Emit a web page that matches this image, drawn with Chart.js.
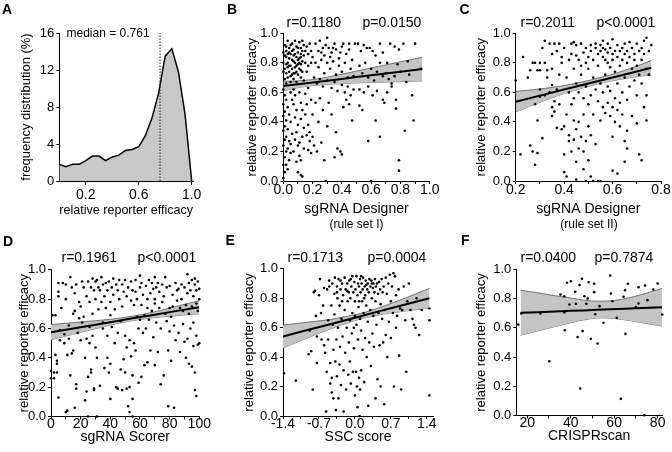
<!DOCTYPE html>
<html>
<head>
<meta charset="utf-8">
<script src="https://cdn.jsdelivr.net/npm/chart.js@4.4.0/dist/chart.umd.min.js"></script>
<style>
body { margin: 0; background: #fff; width: 672px; height: 452px; position: relative; overflow: hidden; }
canvas { position: absolute; }
</style>
</head>
<body>
<canvas id="cA"></canvas>
<canvas id="cB"></canvas>
<canvas id="cC"></canvas>
<canvas id="cD"></canvas>
<canvas id="cE"></canvas>
<canvas id="cF"></canvas>
<script>
// ---- panel A: frequency distribution
var histX = [0, 0.05, 0.1, 0.15, 0.2, 0.25, 0.3, 0.35, 0.4, 0.45, 0.5, 0.55, 0.6, 0.65, 0.7, 0.75, 0.8, 0.85, 0.9, 0.95, 1.0];
var histPct = [1.8, 1.55, 1.8, 1.8, 2.2, 2.7, 2.7, 2.2, 2.6, 2.8, 3.3, 3.4, 3.7, 4.9, 6.8, 9.5, 13.5, 14.3, 11.8, 7.2, 0];
var medianValue = 0.761;
var aXTicks = [0.2, 0.6, 1.0];
var aXLabels = ["0.2", "0.6", "1.0"];
var aYTicks = [0, 4, 8, 12, 16];
var aYLabels = ["0", "4", "8", "12", "16"];

// shared y ticks for the scatter panels
var effTicks = [0, 0.2, 0.4, 0.6, 0.8, 1.0];
var effLabels = ["0.0", "0.2", "0.4", "0.6", "0.8", "1.0"];

// ---- panel B: sgRNA Designer (rule set I)
var bPoints = [
[0.01,0.92],[0.02,0.88],[0.03,0.95],[0.04,0.9],[0.05,0.86],[0.06,0.93],[0.07,0.89],[0.08,0.95],[0.09,0.91],[0.1,0.87],[0.11,0.94],[0.12,0.9],[0.13,0.95],[0.14,0.92],
[0.02,0.84],[0.03,0.8],[0.04,0.83],[0.05,0.78],[0.06,0.82],[0.07,0.85],[0.08,0.8],[0.09,0.84],[0.1,0.79],[0.11,0.83],[0.12,0.86],[0.13,0.81],[0.14,0.85],[0.15,0.88],
[0.01,0.76],[0.02,0.73],[0.03,0.77],[0.04,0.74],[0.05,0.71],[0.06,0.76],[0.07,0.73],[0.08,0.77],[0.09,0.74],[0.1,0.72],[0.11,0.76],[0.12,0.79],[0.13,0.74],[0.15,0.8],
[0.16,0.91],[0.17,0.86],[0.18,0.93],[0.19,0.88],[0.2,0.84],[0.17,0.78],[0.19,0.8],[0.16,0.74],[0.01,0.69],[0.02,0.66],[0.03,0.7],[0.05,0.67],[0.07,0.69],[0.09,0.67],
[0.12,0.7],[0.14,0.68],[0.01,0.85],[0.02,0.91],[0.04,0.87],[0.06,0.88],[0.08,0.86],[0.1,0.9],[0.12,0.84],[0.03,0.86],[0.05,0.92],[0.07,0.81],[0.09,0.78],[0.11,0.8],
[0.13,0.88],[0.0,0.8],[0.0,0.74],[0.0,0.87],[0.02,0.79],[0.04,0.78],[0.06,0.72],[0.08,0.73],[0.1,0.82],[0.12,0.75],
[0.0,0.62],[0.01,0.58],[0.0,0.52],[0.02,0.55],[0.01,0.47],[0.0,0.44],[0.02,0.41],[0.01,0.37],[0.0,0.34],[0.02,0.3],[0.01,0.28],[0.0,0.24],[0.02,0.2],[0.01,0.16],
[0.0,0.11],[0.02,0.11],[0.01,0.06],[0.0,0.02],[0.03,0.5],[0.04,0.45],[0.03,0.35],[0.04,0.27],[0.03,0.22],[0.05,0.19],[0.04,0.14],[0.03,0.08],[0.05,0.6],[0.06,0.55],
[0.05,0.4],[0.06,0.32],[0.05,0.25],
[0.07,0.62],[0.08,0.58],[0.07,0.52],[0.09,0.48],[0.08,0.43],[0.1,0.38],[0.09,0.33],[0.08,0.28],[0.1,0.24],[0.07,0.2],[0.11,0.17],[0.09,0.13],[0.1,0.06],[0.12,0.04],
[0.13,0.03],[0.11,0.6],[0.12,0.53],[0.13,0.48],[0.12,0.42],[0.14,0.36],[0.13,0.3],[0.11,0.26],[0.14,0.22],[0.12,0.14],[0.15,0.59],[0.16,0.52],[0.15,0.45],[0.17,0.38],
[0.16,0.31],[0.18,0.27],[0.17,0.21],[0.19,0.19],[0.18,0.33],[0.2,0.3],[0.2,0.45],[0.19,0.55],[0.17,0.63],
[0.22,0.93],[0.24,0.88],[0.25,0.95],[0.27,0.9],[0.28,0.85],[0.3,0.97],[0.31,0.9],[0.33,0.87],[0.35,0.93],[0.36,0.89],[0.38,0.83],[0.4,0.91],[0.41,0.93],[0.43,0.86],
[0.45,0.89],[0.47,0.82],[0.49,0.93],[0.22,0.8],[0.24,0.77],[0.26,0.82],[0.28,0.73],[0.3,0.8],[0.32,0.76],[0.34,0.81],[0.36,0.72],[0.38,0.78],[0.4,0.74],[0.42,0.8],
[0.44,0.7],[0.46,0.76],[0.48,0.71],[0.21,0.7],[0.23,0.66],[0.25,0.69],[0.27,0.64],[0.3,0.68],[0.33,0.63],[0.35,0.67],[0.37,0.61],[0.4,0.65],[0.42,0.6],[0.44,0.64],
[0.46,0.58],[0.48,0.62],[0.26,0.87],[0.32,0.84],[0.39,0.87],[0.29,0.92],[0.34,0.9],[0.45,0.93],
[0.22,0.53],[0.25,0.56],[0.27,0.48],[0.24,0.4],[0.26,0.26],[0.28,0.14],[0.3,0.37],[0.31,0.53],[0.33,0.45],[0.36,0.33],[0.37,0.22],[0.35,0.16],[0.39,0.2],[0.4,0.18],
[0.41,0.5],[0.43,0.55],[0.45,0.52],[0.47,0.41],[0.23,0.2],[0.29,0.0],[0.21,0.24],
[0.51,0.93],[0.53,0.88],[0.55,0.92],[0.57,0.9],[0.59,0.9],[0.61,0.88],[0.63,0.85],[0.66,0.93],[0.68,0.87],[0.71,0.8],[0.73,0.93],[0.76,0.91],[0.79,0.89],[0.82,0.93],
[0.85,0.81],[0.9,0.93],[0.94,0.76],[0.52,0.78],[0.54,0.73],[0.56,0.8],[0.58,0.7],[0.6,0.76],[0.62,0.68],[0.64,0.74],[0.66,0.8],[0.68,0.71],[0.7,0.73],[0.72,0.69],
[0.74,0.66],[0.76,0.71],[0.78,0.79],[0.8,0.74],[0.84,0.67],[0.86,0.72],[0.52,0.62],[0.55,0.6],[0.58,0.64],[0.61,0.58],[0.64,0.61],[0.68,0.55],[0.71,0.6],[0.74,0.64],
[0.77,0.55],[0.54,0.48],[0.52,0.51],[0.58,0.27],[0.63,0.41],[0.66,0.3],[0.77,0.49],[0.79,0.14],[0.79,0.07],[0.83,0.34],[0.89,0.41],[0.88,0.58],[0.69,0.53],[0.6,0.0]
];
var bFitX = [0, 0.1, 0.2, 0.3, 0.4, 0.5, 0.6, 0.7, 0.8, 0.95];
var bFitY = [0.643, 0.655, 0.667, 0.679, 0.691, 0.704, 0.716, 0.728, 0.740, 0.758];
var bUpper = [0.675, 0.678, 0.687, 0.703, 0.723, 0.744, 0.765, 0.786, 0.807, 0.838];
var bLower = [0.611, 0.632, 0.647, 0.655, 0.659, 0.664, 0.667, 0.670, 0.673, 0.678];
var bXTicks = [0, 0.1, 0.2, 0.3, 0.4, 0.5, 0.6, 0.7, 0.8, 0.9, 1.0];
var bXLabels = ["0.0", "", "0.2", "", "0.4", "", "0.6", "", "0.8", "", "1.0"];

// ---- panel C: sgRNA Designer (rule set II)
var cPoints = [
[0.2,0.68],[0.22,0.18],[0.23,0.84],[0.25,0.7],[0.26,0.24],[0.27,0.8],[0.27,0.2],[0.28,0.11],[0.28,0.8],[0.28,0.52],[0.29,0.41],[0.29,0.75],[0.3,0.8],[0.3,0.75],
[0.3,0.62],[0.31,0.29],[0.31,0.9],[0.32,0.95],[0.32,0.8],[0.33,0.7],[0.33,0.75],[0.34,0.93],[0.34,0.6],[0.35,0.86],[0.35,0.76],[0.35,0.65],[0.35,0.5],[0.35,0.44],
[0.3,0.57],[0.29,0.19],[0.32,0.58],[0.26,0.75],
[0.36,0.93],[0.36,0.54],[0.36,0.47],[0.37,0.88],[0.37,0.62],[0.37,0.36],[0.38,0.52],[0.38,0.72],[0.38,0.93],[0.39,0.35],[0.39,0.8],[0.39,0.84],[0.4,0.06],[0.4,0.18],
[0.4,0.37],[0.4,0.9],[0.41,0.7],[0.41,0.03],[0.41,0.45],[0.42,0.27],[0.42,0.31],[0.42,0.82],[0.42,0.6],[0.43,0.93],[0.43,0.2],[0.43,0.86],[0.43,0.52],[0.44,0.41],
[0.44,0.28],[0.44,0.94],[0.44,0.76],[0.45,0.01],[0.45,0.85],[0.45,0.66],[0.45,0.35],[0.45,0.13],[0.45,0.92],[0.44,0.56],
[0.46,0.22],[0.46,0.82],[0.46,0.6],[0.46,0.4],[0.47,0.93],[0.47,0.3],[0.47,0.72],[0.47,0.78],[0.48,0.2],[0.48,0.56],[0.48,0.87],[0.48,0.08],[0.48,0.45],[0.49,0.27],
[0.49,0.0],[0.49,0.64],[0.49,0.9],[0.49,0.8],[0.5,0.37],[0.5,0.52],[0.5,0.84],[0.5,0.76],[0.5,0.14],[0.51,0.92],[0.51,0.03],[0.51,0.88],[0.51,0.58],[0.51,0.31],
[0.52,0.7],[0.52,0.82],[0.52,0.45],[0.52,0.0],[0.53,0.9],[0.53,0.93],[0.53,0.62],[0.53,0.25],[0.54,0.86],[0.54,0.54],[0.54,0.0],[0.54,0.78],[0.55,0.92],[0.55,0.88],
[0.55,0.66],[0.55,0.41],[0.55,0.0],[0.56,0.95],[0.56,0.84],[0.56,0.6],[0.56,0.5],[0.56,0.9],
[0.57,0.89],[0.57,0.82],[0.57,0.72],[0.57,0.46],[0.58,0.93],[0.58,0.87],[0.58,0.8],[0.58,0.53],[0.58,0.64],[0.59,0.9],[0.59,0.77],[0.59,0.44],[0.59,0.61],[0.6,0.96],
[0.6,0.86],[0.6,0.82],[0.6,0.5],[0.6,0.07],[0.6,0.3],[0.61,0.88],[0.61,0.74],[0.61,0.56],[0.61,0.4],[0.62,0.92],[0.62,0.84],[0.62,0.66],[0.62,0.48],[0.62,0.05],
[0.63,0.88],[0.63,0.78],[0.63,0.53],[0.63,0.37],[0.64,0.9],[0.64,0.82],[0.64,0.6],[0.64,0.45],[0.65,0.93],[0.65,0.86],[0.65,0.7],[0.65,0.27],[0.65,0.13],[0.66,0.88],
[0.66,0.8],[0.66,0.34],[0.66,0.22],[0.66,0.55],
[0.67,0.94],[0.67,0.84],[0.67,0.64],[0.68,0.9],[0.68,0.76],[0.68,0.44],[0.69,0.86],[0.69,0.68],[0.69,0.82],[0.7,0.93],[0.7,0.78],[0.7,0.58],[0.7,0.39],[0.71,0.88],
[0.71,0.72],[0.71,0.18],[0.72,0.82],[0.72,0.66],[0.72,0.14],[0.73,0.95],[0.73,0.86],[0.73,0.5],[0.74,0.97],[0.74,0.76],[0.74,0.41],[0.75,0.88],[0.75,0.72],[0.76,0.92],
[0.74,0.58],[0.72,0.9]
];
var cFitX = [0.2, 0.3, 0.4, 0.5, 0.55, 0.6, 0.7, 0.76];
var cFitY = [0.537, 0.578, 0.619, 0.660, 0.681, 0.701, 0.742, 0.767];
var cUpper = [0.607, 0.623, 0.646, 0.680, 0.701, 0.723, 0.777, 0.817];
var cLower = [0.467, 0.533, 0.592, 0.640, 0.661, 0.679, 0.707, 0.717];
var cXTicks = [0.2, 0.3, 0.4, 0.5, 0.6, 0.7, 0.8];
var cXLabels = ["0.2", "", "0.4", "", "0.6", "", "0.8"];

// ---- panel D: sgRNA Scorer
var dPoints = [
[0,0.31],[0,0.26],[1,0.69],[2,0.26],[2,0.3],[3,0.69],[3,0.42],[4,0.38],[4,0.36],[4,0.3],[5,0.13],[5,0.82],[5,0.85],[5,0.91],[6,0.59],[6,0.52],[7,0.74],[8,0.91],
[9,0.56],[9,0.5],[10,0.9],[10,0.8],[10,0.03],[11,0.04],[11,0.42],[12,0.62],[12,0.53],
[13,0.95],[13,0.28],[14,0.88],[14,0.43],[15,0.45],[15,0.7],[16,0.72],[16,0.06],[16,0.84],[17,0.9],[17,0.22],[17,0.19],[18,0.57],[19,0.67],[19,0.78],[20,0.75],[20,0.52],
[21,0.92],[21,0.64],[22,0.88],[22,0.68],[23,0.4],[23,0.11],[24,0.53],[24,0.82],[24,0.17],[25,0.92],[25,0.27],[25,0.0],[26,0.5],
[26,0.61],[26,0.78],[27,0.32],[27,0.3],[27,0.88],[28,0.7],[28,0.94],[28,0.55],[29,0.19],[29,0.18],[29,0.86],[30,0.92],[30,0.47],[30,0.8],[31,0.0],[31,0.93],[31,0.4],
[32,0.88],[32,0.73],[33,0.86],[33,0.21],[34,0.95],[34,0.78],[35,0.9],[35,0.6],[35,0.64],[36,0.82],[36,0.33],[37,0.74],[37,0.91],[38,0.4],[38,0.55],[38,0.86],[39,0.3],
[39,0.92],[40,0.78],[40,0.36],[40,0.12],[40,0.69],
[41,0.88],[41,0.61],[42,0.94],[42,0.83],[43,0.5],[43,0.73],[44,0.9],[44,0.2],[45,0.19],[45,0.86],[45,0.57],[46,0.93],[46,0.8],[47,0.65],[47,0.32],[48,0.9],[48,0.18],
[48,0.75],[49,0.85],[49,0.39],[50,0.93],[50,0.55],[50,0.3],[51,0.19],[51,0.82],[51,0.47],[52,0.07],[52,0.88],[53,0.03],[53,0.52],[53,0.2],[54,0.92],[54,0.79],[54,0.41],
[55,0.12],[55,0.0],[55,0.86],[55,0.28],
[56,0.5],[56,0.76],[57,0.93],[57,0.85],[57,0.45],[58,0.8],[58,0.68],[59,0.6],[59,0.23],[60,0.96],[60,0.88],[60,0.66],[61,0.76],[61,0.91],[61,0.27],[62,0.57],[62,0.83],
[63,0.69],[63,0.35],[64,0.89],[64,0.6],[65,0.8],[65,0.74],[65,0.37],[66,0.93],[66,0.66],[67,0.84],[67,0.45],[68,0.91],[68,0.72],[69,0.54],[69,0.87],[70,0.95],[70,0.8],
[70,0.35],[70,0.77],
[71,0.88],[71,0.64],[72,0.91],[72,0.44],[73,0.74],[73,0.85],[74,0.6],[74,0.22],[75,0.9],[75,0.78],[76,0.82],[76,0.28],[77,0.95],[77,0.7],[78,0.88],[78,0.65],[79,0.45],
[79,0.07],[80,0.89],[80,0.74],[80,0.58],[81,0.68],[81,0.38],[82,0.83],[82,0.75],[83,0.06],[83,0.62],[84,0.91],[84,0.52],[85,0.86],[85,0.79],
[86,0.57],[86,0.87],[87,0.74],[87,0.44],[88,0.9],[88,0.8],[89,0.63],[89,0.72],[90,0.88],[90,0.51],[91,0.76],[91,0.4],[92,0.97],[92,0.84],[92,0.53],[93,0.91],[93,0.7],
[93,0.36],[94,0.86],[94,0.6],[95,0.93],[95,0.75],[95,0.34],[96,0.82],[96,0.64],[96,0.48],[97,0.9],[97,0.18],[97,0.3],[98,0.14],[98,0.77],[98,0.55],[99,0.92],[99,0.72],
[99,0.49],[100,0.87],[100,0.8],[100,0.5],[97,0.94],[98,0.86]
];
var dFitX = [0, 20, 40, 55, 70, 85, 100];
var dFitY = [0.575, 0.609, 0.643, 0.669, 0.694, 0.720, 0.745];
var dUpper = [0.627, 0.644, 0.663, 0.684, 0.714, 0.752, 0.790];
var dLower = [0.523, 0.574, 0.623, 0.654, 0.674, 0.688, 0.700];
var dXTicks = [0, 10, 20, 30, 40, 50, 60, 70, 80, 90, 100];
var dXLabels = ["0", "", "20", "", "40", "", "60", "", "80", "", "100"];

// ---- panel E: SSC score
var ePoints = [
[-1.38,0.29],[-1.15,0.24],[-0.9,0.42],[-0.88,0.58],[-0.85,0.44],[-0.82,0.18],[-0.8,0.84],[-0.78,0.85],[-0.76,0.68],[-0.74,0.54],[-0.74,0.36],[-0.7,0.82],[-0.68,0.93],
[-0.66,0.7],[-0.65,0.52],[-0.62,0.75],[-0.6,0.87],[-0.6,0.48],[-0.58,0.43],[-0.56,0.03],[-0.55,0.3],[-0.54,0.86],[-0.52,0.65],[-0.52,0.52],[-0.5,0.92],[-0.5,0.88],
[-0.48,0.22],[-0.48,0.36],[-0.46,0.75],[-0.45,0.16],[-0.45,0.26],[-0.44,0.9],[-0.43,0.62],[-0.42,0.45],[-0.42,0.12],
[-0.4,0.83],[-0.4,0.69],[-0.39,0.94],[-0.38,0.37],[-0.37,0.04],[-0.36,0.52],[-0.35,0.88],[-0.35,0.27],[-0.34,0.8],[-0.33,0.6],[-0.32,0.12],[-0.32,0.93],[-0.3,0.35],
[-0.3,0.75],[-0.29,0.47],[-0.28,0.86],[-0.27,0.21],[-0.26,0.66],[-0.25,0.9],[-0.24,0.54],[-0.23,0.82],[-0.22,0.03],[-0.22,0.31],[-0.2,0.94],[-0.2,0.72],[-0.19,0.43],
[-0.18,0.86],[-0.17,0.18],[-0.16,0.6],[-0.15,0.9],[-0.14,0.78],[-0.13,0.28],[-0.12,0.84],[-0.12,0.5],[-0.11,0.92],[-0.1,0.65],[-0.1,0.37],[-0.09,0.8],[-0.08,0.22],
[-0.07,0.88],[-0.06,0.56],[-0.05,0.95],[-0.05,0.7],[-0.04,0.3],[-0.03,0.84],[-0.02,0.6],[-0.02,0.46],[-0.01,0.91],[0.0,0.78],[0.0,0.14],[0.0,0.68],[-0.28,0.92],
[-0.15,0.85],[-0.35,0.84],[-0.25,0.78],[-0.08,0.93],
[0.01,0.86],[0.02,0.3],[0.03,0.95],[0.03,0.62],[0.04,0.2],[0.05,0.82],[0.05,0.06],[0.06,0.9],[0.06,0.52],[0.07,0.74],[0.08,0.88],[0.08,0.26],[0.09,0.0],[0.1,0.93],
[0.1,0.66],[0.1,0.18],[0.11,0.84],[0.12,0.58],[0.12,0.31],[0.13,0.9],[0.14,0.78],[0.15,0.45],[0.15,0.86],[0.16,0.94],[0.17,0.7],[0.18,0.23],[0.19,0.88],[0.2,0.82],
[0.2,0.53],[0.21,0.92],[0.22,0.75],[0.23,0.4],[0.24,0.86],[0.25,0.9],[0.25,0.64],[0.26,0.07],[0.27,0.84],[0.28,0.93],[0.28,0.5],[0.3,0.88],[0.3,0.72],[0.31,0.34],
[0.32,0.92],[0.33,0.8],[0.34,0.56],[0.35,0.87],[0.36,0.9],[0.36,0.68],[0.37,0.47],[0.38,0.84],[0.39,0.93],[0.4,0.78],[0.4,0.12],[0.22,0.89],[0.33,0.9],[0.12,0.95],
[0.18,0.8],[0.08,0.78],
[0.41,0.88],[0.42,0.62],[0.43,0.9],[0.44,0.25],[0.45,0.83],[0.46,0.7],[0.47,0.91],[0.48,0.48],[0.49,0.86],[0.5,0.76],[0.5,0.2],[0.52,0.93],[0.53,0.66],[0.54,0.84],
[0.55,0.5],[0.56,0.88],[0.57,0.08],[0.58,0.72],[0.6,0.94],[0.6,0.55],[0.62,0.83],[0.63,0.4],[0.65,0.9],[0.66,0.64],[0.68,0.96],[0.7,0.78],[0.7,0.53],[0.72,0.88],
[0.74,0.7],[0.75,0.97],[0.76,0.2],[0.78,0.95],[0.8,0.6],[0.8,0.82],[0.82,0.68],[0.85,0.86],[0.86,0.41],[0.88,0.73],[0.9,0.18],[0.92,0.72],[0.95,0.88],[0.98,0.65],
[1.0,0.3],[1.02,0.78],[1.05,0.9],[1.08,0.72],[1.12,0.66],[1.15,0.62],[1.18,0.6],[1.2,0.8],[1.25,0.55],[1.3,0.72],[1.45,0.73],[1.45,0.65],[1.45,0.14]
];
var eFitX = [-1.4, -1, -0.5, 0, 0.2, 0.5, 1.0, 1.45];
var eFitY = [0.540, 0.577, 0.622, 0.668, 0.686, 0.714, 0.759, 0.800];
var eUpper = [0.618, 0.634, 0.655, 0.688, 0.705, 0.739, 0.804, 0.867];
var eLower = [0.462, 0.520, 0.589, 0.648, 0.667, 0.689, 0.714, 0.733];
var eXTicks = [-1.4, -1.05, -0.7, -0.35, 0, 0.35, 0.7, 1.05, 1.4];
var eXLabels = ["-1.4", "", "-0.7", "", "0.0", "", "0.7", "", "1.4"];

// ---- panel F: CRISPRscan
var fPoints = [
[15.9,0.623],[17.3,0.699],[26.1,0.699],[30.2,0.372],[35.3,0.829],[37.1,0.817],[37.3,0.584],[37.1,0.708],[38.3,0.909],[40.1,0.92],[39.4,0.76],[42.1,0.847],
[42.4,0.765],[43.2,0.537],[44.1,0.893],[44.4,0.185],[45.2,0.936],[45.5,0.578],[46.3,0.817],[47.2,0.765],[47.8,0.801],[48.3,0.913],[49.3,0.525],[50.8,0.902],
[50.8,0.845],[51.3,0.694],[52.4,0.493],[53.3,0.749],[55.1,0.635],[58.2,0.959],[58.5,0.836],[59.2,0.783],[61.2,0.669],[63.1,0.114],[64.3,0.813],[65.0,0.858],
[65.2,0.559],[66.3,0.902],[70.0,0.742],[71.2,0.879],[71.2,0.767],[74.2,0.89],[73.9,0.002],[75.3,0.79],[78.0,0.863],[80.0,0.904],[82.1,0.692]
];
var fFitX = [17, 25, 33, 40, 46, 52, 58, 65, 73, 82];
var fFitY = [0.703, 0.708, 0.713, 0.717, 0.720, 0.724, 0.728, 0.732, 0.737, 0.742];
var fUpper = [0.858, 0.840, 0.820, 0.805, 0.790, 0.783, 0.785, 0.800, 0.830, 0.870];
var fLower = [0.550, 0.580, 0.610, 0.635, 0.655, 0.668, 0.667, 0.655, 0.635, 0.612];
var fXTicks = [20, 30, 40, 50, 60, 70, 80];
var fXLabels = ["20", "", "40", "", "60", "", "80"];

var FONT = "'Liberation Sans', Arial, Helvetica, sans-serif";
Chart.defaults.font.family = FONT;
Chart.defaults.color = "#000";

// free text drawn on each canvas (panel letters, statistics, notes)
var texts = {
    cA: [
        {text: "A", x: 2, y: 13.5, size: 14, bold: true, base: "alphabetic"},
        {text: "median = 0.761", x: 66.5, y: 34, size: 12}
    ],
    cB: [
        {text: "B", x: 3, y: 13.5, size: 14, bold: true, base: "alphabetic"},
        {text: "r=0.1180", x: 62.5, y: 22.7, size: 14},
        {text: "p=0.0150", x: 138.5, y: 22.7, size: 14},
        {text: "(rule set I)", x: 132.5, y: 225, size: 12, align: "center"}
    ],
    cC: [
        {text: "C", x: 11.5, y: 13.5, size: 14, bold: true, base: "alphabetic"},
        {text: "r=0.2011", x: 72.5, y: 22.7, size: 14},
        {text: "p<0.0001", x: 148.5, y: 22.7, size: 14},
        {text: "(rule set II)", x: 141, y: 225, size: 12, align: "center"}
    ],
    cD: [
        {text: "D", x: 3, y: 19.5, size: 14, bold: true, base: "alphabetic"},
        {text: "r=0.1961", x: 61.5, y: 32.3, size: 14},
        {text: "p<0.0001", x: 137.5, y: 32.3, size: 14}
    ],
    cE: [
        {text: "E", x: 1.5, y: 18.5, size: 14, bold: true, base: "alphabetic"},
        {text: "r=0.1713", x: 63.5, y: 31.7, size: 14},
        {text: "p=0.0004", x: 143.5, y: 31.7, size: 14}
    ],
    cF: [
        {text: "F", x: 13, y: 18.5, size: 14, bold: true, base: "alphabetic"},
        {text: "r=0.0400", x: 72.5, y: 31.7, size: 14},
        {text: "p=0.7874", x: 146.5, y: 31.7, size: 14}
    ]
};

Chart.register({
    id: "panelText",
    afterDraw: function(chart) {
        var items = texts[chart.canvas.id] || [];
        var ctx = chart.ctx;
        items.forEach(function(t) {
            ctx.save();
            ctx.font = (t.bold ? "bold " : "") + t.size + "px " + FONT;
            ctx.fillStyle = "#000";
            ctx.textAlign = t.align || "left";
            ctx.textBaseline = t.base || "middle";
            ctx.fillText(t.text, t.x, t.y);
            ctx.restore();
        });
    }
});

function toXY(xs, ys) {
    return xs.map(function(x, i) { return {x: x, y: ys[i]}; });
}
function pairs(list) {
    return list.map(function(p) { return {x: p[0], y: p[1]}; });
}

function scatterSets(points, fx, fy, up, lo) {
    return [
        {data: pairs(points), showLine: false, pointRadius: 1.3, pointBackgroundColor: "#000", pointBorderWidth: 0, clip: false, order: 0},
        {data: toXY(fx, fy), pointRadius: 0, borderColor: "#000", borderWidth: 2, fill: false, order: 1},
        {data: toXY(fx, up), pointRadius: 0, borderColor: "#555", borderWidth: 0.8, tension: 0.3, fill: "+1", backgroundColor: "#c4c4c4", order: 2},
        {data: toXY(fx, lo), pointRadius: 0, borderColor: "#555", borderWidth: 0.8, tension: 0.3, fill: false, order: 3}
    ];
}

// box = canvas [left, top, width, height]; area = plot rectangle [left, top, right, bottom] in page pixels
function makePanel(id, box, area, o) {
    var cv = document.getElementById(id);
    cv.style.left = box[0] + "px";
    cv.style.top = box[1] + "px";
    cv.width = box[2];
    cv.height = box[3];
    var xH = box[1] + box[3] - area[3];
    var yW = area[0] - box[0];
    var xFont = o.xFont || 14;
    var tFont = o.titleFont || 14;
    var yTFont = 13;

    return new Chart(cv, {
        type: "line",
        data: {datasets: o.datasets},
        options: {
            responsive: false,
            animation: false,
            devicePixelRatio: 1,
            layout: {padding: {left: 0, top: area[1] - box[1], right: box[0] + box[2] - area[2], bottom: 0}},
            plugins: {legend: {display: false}, tooltip: {enabled: false}},
            scales: {
                x: {
                    type: "linear",
                    min: o.xMin,
                    max: o.xMax,
                    afterBuildTicks: function(s) { s.ticks = o.xTicks.map(function(v) { return {value: v}; }); },
                    afterFit: function(s) { s.height = xH; s.paddingLeft = 0; s.paddingRight = 0; },
                    ticks: {
                        autoSkip: false, maxRotation: 0, padding: o.xPad, color: "#000",
                        font: {size: xFont, lineHeight: 1},
                        callback: function(v, i) { return o.xLabels[i]; }
                    },
                    grid: {drawOnChartArea: false, tickLength: o.xTick, tickColor: "#000", tickWidth: 1},
                    border: {color: "#000", width: 1},
                    title: {
                        display: true, text: o.xTitle, color: "#000", font: {size: tFont},
                        padding: {top: 0, bottom: box[1] + box[3] - o.xTitleY - tFont * 0.6}
                    }
                },
                y: {
                    type: "linear",
                    min: o.yMin,
                    max: o.yMax,
                    afterBuildTicks: function(s) { s.ticks = o.yTicks.map(function(v) { return {value: v}; }); },
                    afterFit: function(s) { s.width = yW; s.paddingTop = 0; s.paddingBottom = 0; },
                    ticks: {
                        autoSkip: false, padding: 2, color: "#000",
                        font: {size: 13},
                        callback: function(v, i) { return o.yLabels[i]; }
                    },
                    grid: {drawOnChartArea: false, tickLength: 3, tickColor: "#000", tickWidth: 1},
                    border: {color: "#000", width: 1},
                    title: {
                        display: true, text: o.yTitle, color: "#000", font: {size: yTFont},
                        padding: {top: o.yTitleX - yTFont * 0.6, bottom: 0}
                    }
                }
            }
        }
    });
}

var effTitle = "relative reporter efficacy";

makePanel("cA", [0, 0, 224, 226], [59.3, 33, 193, 181], {
    datasets: [
        {data: toXY(histX, histPct), pointRadius: 0, borderColor: "#000", borderWidth: 1.5, fill: "origin", backgroundColor: "#c8c8c8", order: 1},
        {data: [{x: medianValue, y: 0}, {x: medianValue, y: 16}], pointRadius: 0, borderColor: "#222", borderWidth: 1, borderDash: [1.5, 1.5], fill: false, order: 0}
    ],
    xMin: 0, xMax: 1.01, xTicks: aXTicks, xLabels: aXLabels, xTick: 4, xPad: 3,
    yMin: 0, yMax: 16, yTicks: aYTicks, yLabels: aYLabels,
    xTitle: "relative reporter efficacy", xTitleY: 210.7, titleFont: 13,
    yTitle: "frequency distribution (%)", yTitleX: 26.7
});

makePanel("cB", [224, 0, 224, 240], [283.3, 33.3, 429.7, 181], {
    datasets: scatterSets(bPoints, bFitX, bFitY, bUpper, bLower),
    xMin: 0, xMax: 1, xTicks: bXTicks, xLabels: bXLabels, xTick: 3, xPad: -1,
    yMin: 0, yMax: 1, yTicks: effTicks, yLabels: effLabels,
    xTitle: "sgRNA Designer", xTitleY: 209.3,
    yTitle: effTitle, yTitleX: 28.3
});

makePanel("cC", [448, 0, 224, 240], [515.7, 33.3, 661, 181], {
    datasets: scatterSets(cPoints, cFitX, cFitY, cUpper, cLower),
    xMin: 0.2, xMax: 0.8, xTicks: cXTicks, xLabels: cXLabels, xTick: 3, xPad: -1,
    yMin: 0, yMax: 1, yTicks: effTicks, yLabels: effLabels,
    xTitle: "sgRNA Designer", xTitleY: 209.3,
    yTitle: effTitle, yTitleX: 33.3
});

makePanel("cD", [0, 226, 224, 226], [51, 269.8, 199.3, 416.5], {
    datasets: scatterSets(dPoints, dFitX, dFitY, dUpper, dLower),
    xMin: 0, xMax: 100, xTicks: dXTicks, xLabels: dXLabels, xTick: 3, xPad: -2,
    yMin: 0, yMax: 1, yTicks: effTicks, yLabels: effLabels,
    xTitle: "sgRNA Scorer", xTitleY: 437,
    yTitle: effTitle, yTitleX: 24
});

makePanel("cE", [224, 226, 224, 226], [283, 268.8, 433, 416], {
    datasets: scatterSets(ePoints, eFitX, eFitY, eUpper, eLower),
    xMin: -1.4, xMax: 1.52, xTicks: eXTicks, xLabels: eXLabels, xTick: 3, xPad: -2,
    yMin: 0, yMax: 1, yTicks: effTicks, yLabels: effLabels,
    xTitle: "SSC score", xTitleY: 437,
    yTitle: effTitle, yTitleX: 25
});

makePanel("cF", [448, 226, 224, 226], [516.3, 269.5, 662, 415.5], {
    datasets: scatterSets(fPoints, fFitX, fFitY, fUpper, fLower),
    xMin: 15, xMax: 82, xTicks: fXTicks, xLabels: fXLabels, xTick: 3, xPad: -2,
    yMin: 0, yMax: 1, yTicks: effTicks, yLabels: effLabels,
    xTitle: "CRISPRscan", xTitleY: 436.5,
    yTitle: effTitle, yTitleX: 33.3
});
</script>
</body>
</html>
